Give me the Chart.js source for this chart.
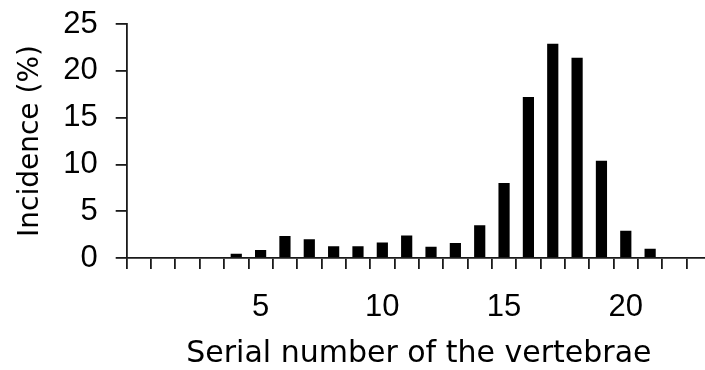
<!DOCTYPE html>
<html>
<head>
<meta charset="utf-8">
<script src="https://cdn.jsdelivr.net/npm/chart.js@4/dist/chart.umd.min.js"></script>
<style>
  html, body { margin: 0; padding: 0; background: #fff; overflow: hidden; }
  #wrap { width: 705px; height: 370px; overflow: hidden; position: relative; }
  canvas { display: block; }
</style>
</head>
<body>
<div id="wrap"><canvas id="c" width="711" height="370" style="width:711px;height:370px"></canvas></div>
<script>
// Serial number of the vertebrae (categories) and incidence (%)
const categories = ['0','1','2','3','4','5','6','7','8','9','10','11','12','13','14','15','16','17','18','19','20','21','22','23'];
const incidence  = [0, 0, 0, 0, 0.45, 0.85, 2.35, 2.0, 1.25, 1.25, 1.65, 2.4, 1.2, 1.6, 3.5, 8.0, 17.2, 22.9, 21.4, 10.4, 2.9, 1.0, 0, 0];
const yTicks = [0, 5, 10, 15, 20, 25];
const xTickLabels = ['5', '10', '15', '20'];
const xTitle = 'Serial number of the vertebrae';
const yTitle = 'Incidence (%)';

const axisColor = '#1a1a1a';
const digitFont = { family: '"Liberation Sans", Arial, sans-serif', size: 31 };

new Chart(document.getElementById('c'), {
  type: 'bar',
  data: {
    labels: categories,
    datasets: [{
      data: incidence,
      backgroundColor: '#000',
      borderWidth: 0,
      categoryPercentage: 1.0,
      barPercentage: 0.46
    }]
  },
  options: {
    responsive: false,
    animation: false,
    devicePixelRatio: 1,
    layout: { padding: { top: 24, left: 0, right: 0, bottom: 0 } },
    plugins: { legend: { display: false }, tooltip: { enabled: false } },
    scales: {
      x: {
        type: 'category',
        offset: true,
        grid: { offset: true, drawOnChartArea: false, drawTicks: true, tickLength: 11, color: axisColor, lineWidth: 1.8 },
        border: { display: true, color: axisColor, width: 1.8 },
        ticks: {
          autoSkip: false,
          maxRotation: 0,
          padding: 20,
          color: '#000',
          font: digitFont,
          callback: function (value) {
            const lbl = this.getLabelForValue(value);
            return xTickLabels.includes(lbl) ? lbl : '';
          }
        },
        title: {
          display: true,
          text: xTitle,
          color: '#000',
          font: { family: '"DejaVu Sans", sans-serif', size: 30, lineHeight: 1.0 },
          padding: { top: 0, bottom: 1 }
        },
        afterFit: function (scale) { scale.height = 112; scale.paddingLeft = 0; scale.paddingRight = 0; }
      },
      y: {
        min: 0,
        max: 25,
        afterBuildTicks: function (scale) { scale.ticks = yTicks.map(v => ({ value: v })); },
        grid: { drawOnChartArea: false, drawTicks: true, tickLength: 11, color: axisColor, lineWidth: 1.8 },
        border: { display: true, color: axisColor, width: 1.8 },
        ticks: { padding: 18, color: '#000', font: digitFont },
        title: {
          display: true,
          text: yTitle,
          color: '#000',
          font: { family: '"DejaVu Sans", sans-serif', size: 28, lineHeight: 1.2 },
          padding: { top: 14, bottom: 0 }
        },
        afterFit: function (scale) { scale.width = 126.7; scale.paddingTop = 0; scale.paddingBottom = 0; }
      }
    }
  }
});
</script>
</body>
</html>
